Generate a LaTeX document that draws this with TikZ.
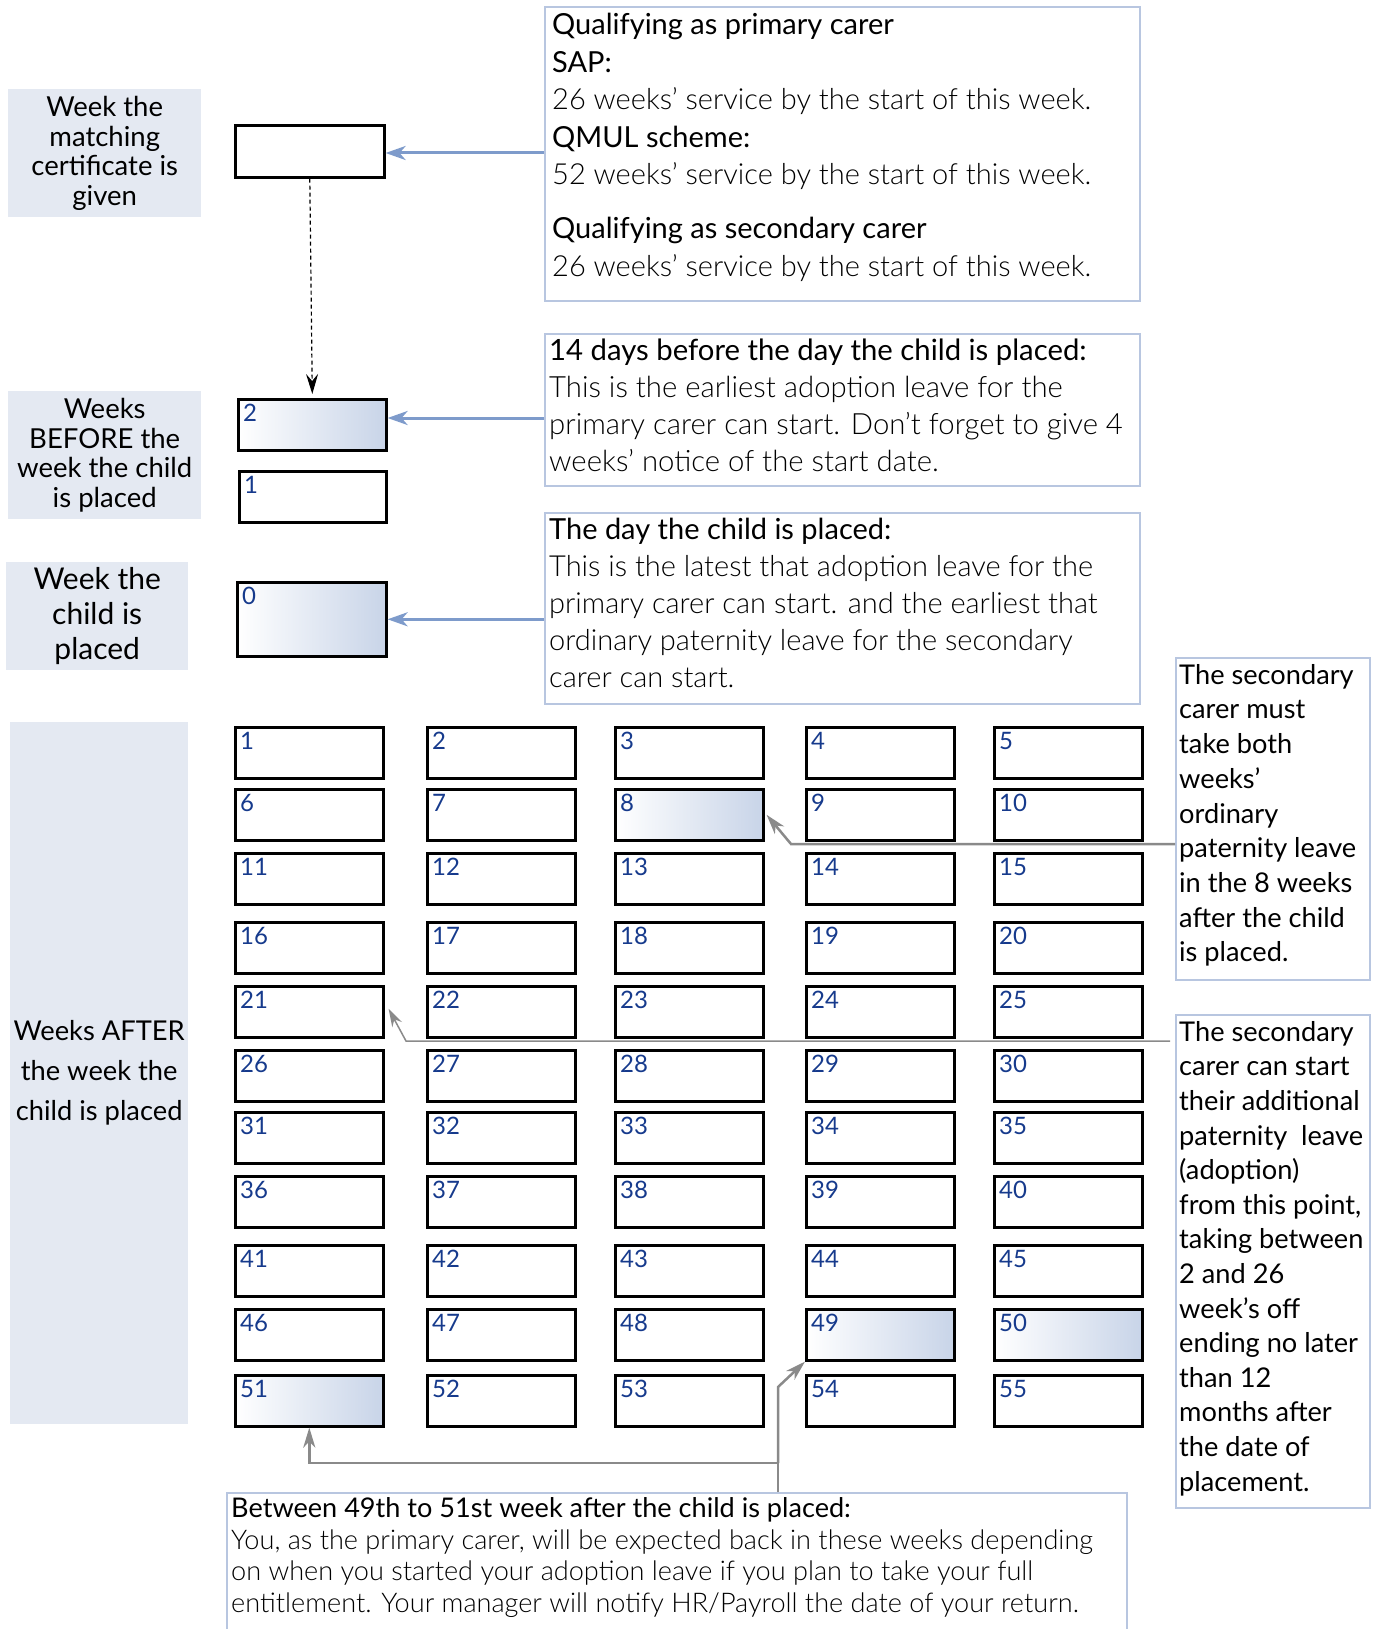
\documentclass[tikz,border=0pt]{standalone}
\usepackage{fontspec}
\setmainfont{Lato}
\newfontfamily\lightfont{Lato Light}
\usetikzlibrary{arrows.meta}
\definecolor{tagfill}{RGB}{228,233,242}
\definecolor{notedge}{RGB}{184,198,224}
\definecolor{numblue}{RGB}{22,58,140}
\definecolor{shadeblue}{RGB}{200,212,232}
\definecolor{linkblue}{RGB}{126,155,203}
\definecolor{linkgrey}{RGB}{138,138,138}
\begin{document}
\begin{tikzpicture}[x=1pt,y=-1pt,
  tag/.style={fill=tagfill,anchor=north west,inner sep=0pt,align=center},
  week/.style={draw,line width=2.6pt,anchor=north west,minimum width=148pt,minimum height=51pt,inner sep=0pt},
  shade/.style={left color=white,right color=shadeblue},
  w8/.style={shade},w49/.style={shade},w50/.style={shade},w51/.style={shade},
  wnum/.style={anchor=north west,inner sep=0pt,text=numblue,font=\fontsize{24}{24}\selectfont},
  note/.style={draw=notedge,line width=2.4pt,anchor=north west,inner sep=0pt},
  notetext/.style={anchor=north west,inner sep=0pt,align=left},
  bluearrow/.style={linkblue,line width=3pt,-{Stealth[length=20pt,width=14pt,inset=6pt]}},
  greyarrow/.style={linkgrey,line width=2.5pt,-{Stealth[length=20pt,width=12pt,inset=6pt]}}]
\useasboundingbox (0,0) rectangle (1378,1629);
\clip (0,0) rectangle (1378,1629);
% row labels on the left
\node[tag,name=lblmatch,minimum width=193pt,minimum height=128pt,font=\fontsize{27.5}{29.5}\selectfont] at (8,89) {Week the\\matching\\certificate is\\given};
\node[tag,name=lblbefore,minimum width=193pt,minimum height=128pt,font=\fontsize{27.5}{29.5}\selectfont] at (8,391) {Weeks\\BEFORE the\\week the child\\is placed};
\node[tag,name=lblplaced,minimum width=182pt,minimum height=108pt,font=\fontsize{30}{35}\selectfont] at (6,562) {Week the\\child is\\placed};
\node[tag,name=lblafter,minimum width=178pt,minimum height=702pt,font=\fontsize{27.3}{40}\selectfont] at (10,722) {Weeks AFTER\\the week the\\child is placed};
% weeks up to the placement
\node[week,name=wkm,minimum width=149pt,minimum height=52pt] at (234,124) {};
\node[week,shade,name=wkb2] at (237,398) {};
\node[wnum,name=wnb2] at ([shift={(6,6)}]wkb2.north west) {2};
\node[week,name=wkb1,minimum width=147pt] at (238,470) {};
\node[wnum,name=wnb1] at ([shift={(6,6)}]wkb1.north west) {1};
\node[week,shade,name=wk0,minimum width=149pt,minimum height=74pt] at (236,581) {};
\node[wnum,name=wn0] at ([shift={(6,6)}]wk0.north west) {0};
% weeks after the placement
\foreach \r/\ry in {0/726,1/788,2/852,3/921,4/985,5/1049,6/1111,7/1175,8/1244,9/1308,10/1374}{
  \foreach \c/\cx in {1/234,2/426,3/614,4/805,5/993}{
    \pgfmathtruncatemacro\n{5*\r+\c}
    \node[week,w\n/.try,name=wk\n] at (\cx,\ry) {};
    \node[wnum,name=wn\n] at ([shift={(6,6)}]wk\n.north west) {\n};
  }
}
% notes
\node[note,name=qual,minimum width=595pt,minimum height=294pt] at (544,6) {};
\node[notetext,name=qualtext,font=\fontsize{29}{37.6}\selectfont] at (552,13) {Qualifying as primary carer\\SAP:\\{\lightfont 26 weeks’ service by the start of this week.}\\QMUL scheme:\\{\lightfont 52 weeks’ service by the start of this week.}\\[16pt]Qualifying as secondary carer\\{\lightfont 26 weeks’ service by the start of this week.}};
\node[note,name=early,minimum width=595pt,minimum height=152pt] at (544,333) {};
\node[notetext,name=earlytext,font=\fontsize{29.3}{37}\selectfont] at (549,339) {14 days before the day the child is placed:\\{\lightfont This is the earliest adoption leave for the}\\{\lightfont primary carer can start. Don’t forget to give 4}\\{\lightfont weeks’ notice of the start date.}};
\node[note,name=placed,minimum width=595pt,minimum height=191pt] at (544,512) {};
\node[notetext,name=placedtext,font=\fontsize{29}{37}\selectfont] at (549,518) {The day the child is placed:\\{\lightfont This is the latest that adoption leave for the}\\{\lightfont primary carer can start. and the earliest that}\\{\lightfont ordinary paternity leave for the secondary}\\{\lightfont carer can start.}};
\node[note,name=secmust,minimum width=194pt,minimum height=322pt] at (1175,657) {};
\node[notetext,name=secmusttext,font=\fontsize{27.2}{34.7}\selectfont] at (1179,664) {The secondary\\carer must\\take both\\weeks’\\ordinary\\paternity leave\\in the 8 weeks\\after the child\\is placed.};
\node[note,name=secadd,minimum width=194pt,minimum height=493pt] at (1175,1014) {};
\node[notetext,name=secaddtext,font=\fontsize{27.2}{34.6}\selectfont] at (1179,1021) {The secondary\\carer can start\\their additional\\paternity\ \ leave\\(adoption)\\from this point,\\taking between\\2 and 26\\week’s off\\ending no later\\than 12\\months after\\the date of\\placement.};
\node[note,name=back,minimum width=900pt,minimum height=180pt] at (226,1492) {};
\node[notetext,name=backtext,font=\fontsize{27.1}{31.9}\selectfont] at (231,1497) {Between 49th to 51st week after the child is placed:\\{\lightfont You, as the primary carer, will be expected back in these weeks depending}\\{\lightfont on when you started your adoption leave if you plan to take your full}\\{\lightfont entitlement. Your manager will notify HR/Payroll the date of your return.}};
% connectors
\draw[bluearrow] (qual.west |- 0,153) -- (wkm.east |- 0,153);
\draw[bluearrow] (early.west |- 0,418) -- (wkb2.east |- 0,418);
\draw[bluearrow] (placed.west |- wk0.east) -- (wk0.east);
\draw[dashed,line width=1.2pt,dash pattern=on 4pt off 3pt,-{Stealth[length=20pt,width=12pt,inset=7pt]}] (wkm.south) -- ([yshift=4pt]wkb2.north);
\draw[greyarrow] (secmust.west |- 0,844) -- (791,844) -- ([xshift=2pt]wk8.east);
\draw[linkgrey,line width=1.5pt,-{Stealth[length=18pt,width=11pt,inset=6pt]}] ([xshift=-5pt]secadd.west |- 0,1041) -- (406,1041) -- ([shift={(4,-3)}]wk21.east);
\coordinate (fork) at (778,1463);
\draw[greyarrow] (back.north -| fork) -- (fork) -| (wk51.south);
\draw[greyarrow] (fork) -- (778,1387) -- (wk49.south west);
\end{tikzpicture}
\end{document}
